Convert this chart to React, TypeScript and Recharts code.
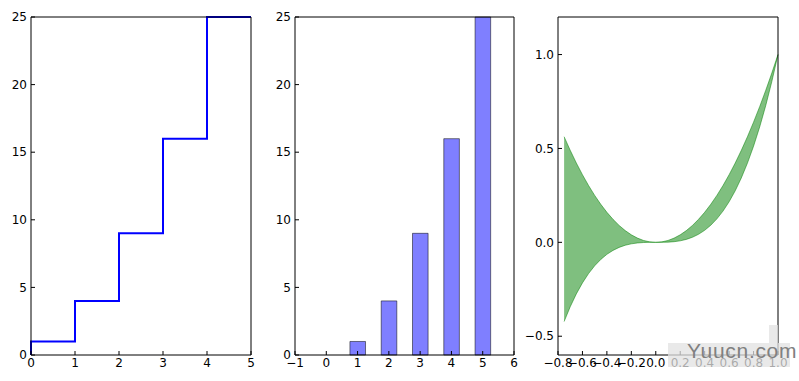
import { ComposedChart, Line, Bar, Area, XAxis, YAxis } from "recharts";

// step + bar panels
const steps = [0, 1, 2, 3, 4, 5];
const squares = [0, 1, 4, 9, 16, 25];
const squareTicks = [0, 5, 10, 15, 20, 25];
const stepXTicks = [0, 1, 2, 3, 4, 5];
const barXTicks = [-1, 0, 1, 2, 3, 4, 5, 6];

// fill_between panel
const fillX = [
  -0.75, -0.7, -0.65, -0.6, -0.55, -0.5, -0.45, -0.4, -0.35, -0.3, -0.25, -0.2,
  -0.15, -0.1, -0.05, 0, 0.05, 0.1, 0.15, 0.2, 0.25, 0.3, 0.35, 0.4, 0.45, 0.5,
  0.55, 0.6, 0.65, 0.7, 0.75, 0.8, 0.85, 0.9, 0.95, 1.0,
];
const upperY = [
  0.5625, 0.49, 0.4225, 0.36, 0.3025, 0.25, 0.2025, 0.16, 0.1225, 0.09, 0.0625,
  0.04, 0.0225, 0.01, 0.0025, 0, 0.0025, 0.01, 0.0225, 0.04, 0.0625, 0.09,
  0.1225, 0.16, 0.2025, 0.25, 0.3025, 0.36, 0.4225, 0.49, 0.5625, 0.64, 0.7225,
  0.81, 0.9025, 1.0,
];
const lowerY = [
  -0.4219, -0.343, -0.2746, -0.216, -0.1664, -0.125, -0.0911, -0.064, -0.0429,
  -0.027, -0.0156, -0.008, -0.0034, -0.001, -0.0001, 0, 0.0001, 0.001, 0.0034,
  0.008, 0.0156, 0.027, 0.0429, 0.064, 0.0911, 0.125, 0.1664, 0.216, 0.2746,
  0.343, 0.4219, 0.512, 0.6141, 0.729, 0.8574, 1.0,
];
const fillXTicks = [-0.8, -0.6, -0.4, -0.2, 0, 0.2, 0.4, 0.6, 0.8, 1.0];
const fillYTicks = [-0.5, 0, 0.5, 1.0];

const squareData = steps.map((n, i) => ({ x: n, y: squares[i] }));
const fillData = fillX.map((x, i) => ({ x, y: upperY[i], band: [lowerY[i], upperY[i]] }));

const H = 381;
const PLOT_TOP = 17;
const PLOT_BOTTOM = 355;
const X_AXIS_H = H - PLOT_BOTTOM;
const RIGHT_PAD = 16;
const TICK = -4;

const tickStyle = { fill: "#000", fontSize: 12, fontFamily: "DejaVu Sans" };
const axisLine = { stroke: "#000", strokeWidth: 1 };
const tickLine = { stroke: "#000", strokeWidth: 1 };

const fmt = (digits: number) => (v: number) => v.toFixed(digits).replace("-", "\u2212");

// four framed axes with inward ticks (matplotlib classic look)
function frame(
  xDomain: number[],
  xTicks: number[],
  yDomain: number[],
  yTicks: number[],
  yWidth: number,
  xDigits: number,
  yDigits: number,
) {
  const common = {
    type: "number" as const,
    axisLine,
    tickLine,
    tickSize: TICK,
    interval: 0 as const,
  };
  return [
    <XAxis
      key="xb"
      {...common}
      dataKey="x"
      domain={xDomain}
      ticks={xTicks}
      height={X_AXIS_H}
      tickMargin={7}
      tick={tickStyle}
      tickFormatter={fmt(xDigits)}
    />,
    <XAxis
      key="xt"
      {...common}
      xAxisId="top"
      orientation="top"
      dataKey="x"
      domain={xDomain}
      ticks={xTicks}
      height={1}
      tick={false}
    />,
    <YAxis
      key="yl"
      {...common}
      domain={yDomain}
      ticks={yTicks}
      width={yWidth}
      tickMargin={8}
      tick={tickStyle}
      tickFormatter={fmt(yDigits)}
    />,
    <YAxis
      key="yr"
      {...common}
      yAxisId="right"
      orientation="right"
      domain={yDomain}
      ticks={yTicks}
      width={1}
      tick={false}
    />,
    // invisible series so the top/right axes get drawn
    <Line
      key="ghost"
      xAxisId="top"
      yAxisId="right"
      dataKey="y"
      stroke="none"
      dot={false}
      activeDot={false}
      isAnimationActive={false}
    />,
  ];
}

function panelBox(plotLeft: number, plotW: number, yWidth: number) {
  const width = yWidth + plotW + 1 + RIGHT_PAD;
  return {
    style: {
      position: "absolute" as const,
      left: plotLeft - yWidth,
      top: 0,
      width,
      height: H,
    },
    width,
    margin: { top: PLOT_TOP - 1, right: RIGHT_PAD, bottom: 0, left: 0 },
  };
}

export default function App() {
  const p1 = panelBox(31, 220, 31);
  const p2 = panelBox(295, 219, 31);
  const p3 = panelBox(558, 220, 40);
  return (
    <div
      style={{
        position: "absolute",
        left: 0,
        top: 0,
        width: 799,
        height: H,
        background: "#fff",
        overflow: "hidden",
      }}
    >
      <div style={p1.style}>
        <ComposedChart width={p1.width} height={H} data={squareData} margin={p1.margin}>
          {frame([0, 5], stepXTicks, [0, 25], squareTicks, 31, 0, 0)}
          <Line
            dataKey="y"
            type="stepBefore"
            stroke="#0000ff"
            strokeWidth={2}
            dot={false}
            isAnimationActive={false}
          />
        </ComposedChart>
      </div>

      <div style={p2.style}>
        <ComposedChart width={p2.width} height={H} data={squareData} margin={p2.margin}>
          {frame([-1, 6], barXTicks, [0, 25], squareTicks, 31, 0, 0)}
          <Bar
            dataKey="y"
            barSize={15.6}
            fill="#0000ff"
            fillOpacity={0.5}
            stroke="#000"
            strokeOpacity={0.5}
            isAnimationActive={false}
          />
        </ComposedChart>
      </div>

      <div style={p3.style}>
        <ComposedChart width={p3.width} height={H} data={fillData} margin={p3.margin}>
          {frame([-0.8, 1.0], fillXTicks, [-0.6, 1.2], fillYTicks, 40, 1, 1)}
          <Area
            dataKey="band"
            type="linear"
            fill="#008000"
            fillOpacity={0.5}
            stroke="#008000"
            strokeOpacity={0.5}
            isAnimationActive={false}
          />
        </ComposedChart>
      </div>

      {/* watermark */}
      <div
        style={{
          position: "absolute",
          left: 668,
          top: 343,
          width: 122,
          height: 24,
          background: "rgba(225,225,225,0.75)",
        }}
      />
      <div
        style={{
          position: "absolute",
          left: 769,
          top: 325,
          width: 9,
          height: 18,
          background: "rgba(225,225,225,0.75)",
        }}
      />
      <div
        style={{
          position: "absolute",
          left: 687,
          top: 339,
          fontFamily: "Liberation Sans",
          fontSize: 21,
          letterSpacing: 0.7,
          color: "#808080",
        }}
      >
        Yuucn.com
      </div>
    </div>
  );
}
